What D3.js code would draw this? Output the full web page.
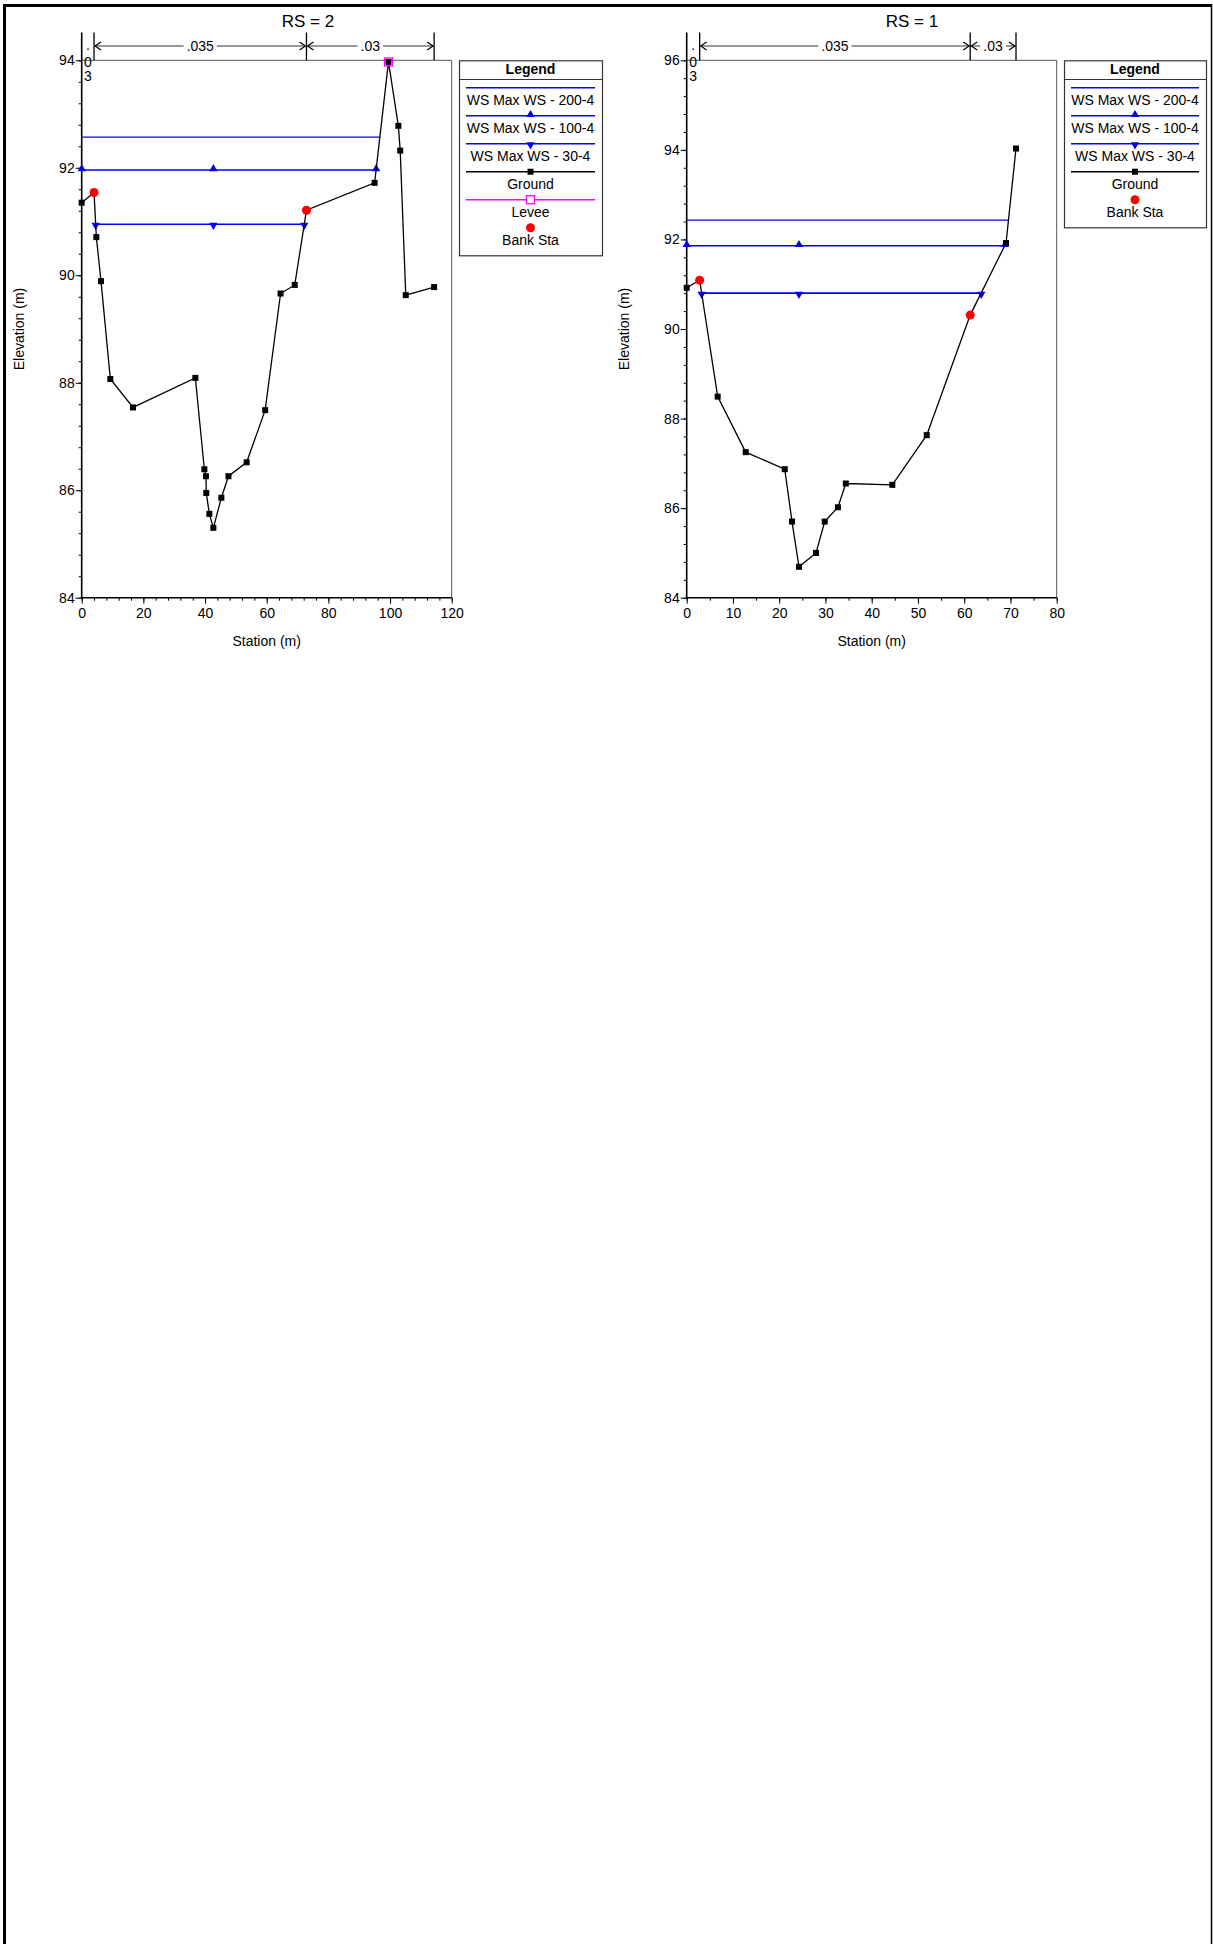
<!DOCTYPE html>
<html><head><meta charset="utf-8">
<script src="https://cdn.jsdelivr.net/npm/d3@7"></script>
<style>
body{margin:0;background:#fff}
text{font-family:Arial,"Liberation Sans",sans-serif;fill:#000}
</style>
</head><body>
<svg id="c" width="1213" height="1944"></svg>
<script>
// ---------- data ----------
const wsNames = ["WS Max WS - 200-4", "WS Max WS - 100-4", "WS Max WS - 30-4"];

// RS = 2
const rs2Title = "RS = 2";
const rs2Station = [0, 4.0, 4.75, 6.26, 9.29, 16.64, 36.86, 39.78, 40.3, 40.4, 41.4, 42.7, 45.3, 47.6, 53.5, 59.5, 64.5, 69.1, 72.9, 95.0, 99.5, 102.7, 103.3, 105.1, 114.3];
const rs2Elev    = [91.35, 91.54, 90.71, 89.89, 88.07, 87.54, 88.09, 86.39, 86.26, 85.95, 85.56, 85.30, 85.86, 86.26, 86.52, 87.49, 89.66, 89.82, 91.21, 91.72, 93.97, 92.78, 92.32, 89.63, 89.78];
const rs2WsElev  = [92.57, 91.96, 90.95];
const rs2WsFrom  = [0, 0, 4.53];
const rs2WsTo    = [96.7, 95.5, 72.2];
const rs2WsMarks = [[], [0, 42.7, 95.5], [4.53, 42.7, 72.2]];
const rs2BankSta = [4.0, 72.9];
const rs2BankEl  = [91.54, 91.21];
const rs2LeveeSta = [99.5];
const rs2LeveeEl  = [93.97];
const rs2NBreaks = [0, 4.0, 72.9, 114.3];
const rs2NVals   = [".03", ".035", ".03"];
const rs2XTicks  = [0, 20, 40, 60, 80, 100, 120];
const rs2YTicks  = [84, 86, 88, 90, 92, 94];

// RS = 1
const rs1Title = "RS = 1";
const rs1Station = [0, 2.8, 6.7, 12.76, 21.2, 22.77, 24.28, 27.96, 29.84, 32.7, 34.4, 44.46, 51.9, 61.3, 69.05, 71.2];
const rs1Elev    = [90.92, 91.09, 88.49, 87.25, 86.87, 85.70, 84.69, 85.0, 85.70, 86.02, 86.55, 86.52, 87.63, 90.31, 91.92, 94.03];
const rs1WsElev  = [92.43, 91.86, 90.80];
const rs1WsFrom  = [0, 0, 3.24];
const rs1WsTo    = [69.6, 68.8, 63.7];
const rs1WsMarks = [[], [0, 24.28, 68.8], [3.24, 24.28, 63.7]];
const rs1BankSta = [2.8, 61.3];
const rs1BankEl  = [91.09, 90.31];
const rs1LeveeSta = [];
const rs1LeveeEl  = [];
const rs1NBreaks = [0, 2.8, 61.3, 71.2];
const rs1NVals   = [".03", ".035", ".03"];
const rs1XTicks  = [0, 10, 20, 30, 40, 50, 60, 70, 80];
const rs1YTicks  = [84, 86, 88, 90, 92, 94, 96];

// ---------- drawing ----------
const svg = d3.select("#c");
const BLUE = "#0000ff";

// outer frame
svg.append("line").attr("x1", 3).attr("x2", 1212).attr("y1", 5.5).attr("y2", 5.5).attr("stroke", "#000").attr("stroke-width", 3);
svg.append("line").attr("x1", 4.5).attr("x2", 4.5).attr("y1", 4).attr("y2", 1944).attr("stroke", "#000").attr("stroke-width", 3);
svg.append("line").attr("x1", 1211.5).attr("x2", 1211.5).attr("y1", 4).attr("y2", 1944).attr("stroke", "#000").attr("stroke-width", 1.5);

function drawPanel(p) {
  const g = svg.append("g");
  const x = d3.scaleLinear().domain(p.xDom).range([p.left, p.right]);
  const y = d3.scaleLinear().domain(p.yDom).range([p.bottom, p.top]);

  // title
  g.append("text").attr("x", p.titleX).attr("y", 27).attr("text-anchor", "middle")
    .style("font-size", "17px").text(p.title);

  // plot frame top/right
  g.append("path").attr("d", `M${p.left},${p.top}H${p.right}V${p.bottom}`)
    .attr("fill", "none").attr("stroke", "#555").attr("stroke-width", 1);

  // minor ticks
  const xMinor = d3.range(p.xDom[0], p.xDom[1] + 1e-9, p.xMinor);
  const yMinor = d3.range(p.yDom[0], p.yDom[1] + 1e-9, p.yMinor);
  g.append("g").attr("transform", `translate(0,${p.bottom})`)
    .call(d3.axisBottom(x).tickValues(xMinor).tickSize(3).tickFormat("").tickSizeOuter(0))
    .call(s => s.select(".domain").remove());
  g.append("g").attr("transform", `translate(${p.left},0)`)
    .call(d3.axisLeft(y).tickValues(yMinor).tickSize(3).tickFormat("").tickSizeOuter(0))
    .call(s => s.select(".domain").remove());
  // major ticks
  const xa = g.append("g").attr("transform", `translate(0,${p.bottom})`)
    .call(d3.axisBottom(x).tickValues(p.xTicks).tickSize(6).tickPadding(4).tickFormat(d3.format("d")).tickSizeOuter(0));
  const ya = g.append("g").attr("transform", `translate(${p.left},0)`)
    .call(d3.axisLeft(y).tickValues(p.yTicks).tickSize(6).tickPadding(1).tickFormat(d3.format("d")).tickSizeOuter(0));
  [xa, ya].forEach(a => {
    a.select(".domain").remove();
    a.selectAll("text").style("font-size", "14px").style("font-family", "Arial, 'Liberation Sans', sans-serif").attr("fill", "#000");
  });
  g.selectAll(".tick line").attr("stroke", "#000");

  // axis lines
  g.append("line").attr("x1", p.left).attr("x2", p.left).attr("y1", 32.5).attr("y2", p.bottom + 0.5)
    .attr("stroke", "#000").attr("stroke-width", 1.6);
  g.append("line").attr("x1", p.left).attr("x2", p.right).attr("y1", p.bottom).attr("y2", p.bottom)
    .attr("stroke", "#000").attr("stroke-width", 1.6);

  // axis labels
  g.append("text").attr("x", (p.left + p.right) / 2).attr("y", 646).attr("text-anchor", "middle")
    .style("font-size", "14px").text("Station (m)");
  g.append("text").attr("transform", `translate(${p.left - 58},${(p.top + p.bottom) / 2}) rotate(-90)`)
    .attr("text-anchor", "middle").style("font-size", "14px").text("Elevation (m)");

  // manning's n bar
  const nY = 46;
  p.nBreaks.slice(1).forEach(b => {
    g.append("line").attr("x1", x(b)).attr("x2", x(b)).attr("y1", 32.5).attr("y2", p.top)
      .attr("stroke", "#000").attr("stroke-width", 1.3);
  });
  p.nVals.forEach((v, i) => {
    const a = x(p.nBreaks[i]), b = x(p.nBreaks[i + 1]);
    if (b - a < 25) {
      // stacked vertical label
      const cx = (a + b) / 2;
      v.split("").forEach((ch, k) => {
        g.append("text").attr("x", cx).attr("y", 53 + k * 14 - (ch === "." ? 3 : 0))
          .attr("text-anchor", "middle").style("font-size", "14px").text(ch);
      });
      return;
    }
    const t = g.append("text").attr("x", (a + b) / 2).attr("y", nY + 5).attr("text-anchor", "middle")
      .style("font-size", "14px").text(v);
    const w = t.node().getComputedTextLength();
    const m = (a + b) / 2;
    const col = "#333";
    g.append("line").attr("x1", a + 1).attr("x2", m - w / 2 - 3).attr("y1", nY).attr("y2", nY).attr("stroke", col);
    g.append("line").attr("x1", m + w / 2 + 3).attr("x2", b - 1).attr("y1", nY).attr("y2", nY).attr("stroke", col);
    g.append("path").attr("d", `M${a + 7},${nY - 4}L${a + 1},${nY}L${a + 7},${nY + 4}`).attr("fill", "none").attr("stroke", "#000").attr("stroke-width", 1.2);
    g.append("path").attr("d", `M${b - 7},${nY - 4}L${b - 1},${nY}L${b - 7},${nY + 4}`).attr("fill", "none").attr("stroke", "#000").attr("stroke-width", 1.2);
  });

  // water surfaces
  const triUp = d3.symbol().type(d3.symbolTriangle).size(30);
  p.wsElev.forEach((e, i) => {
    g.append("line").attr("x1", x(p.wsFrom[i])).attr("x2", x(p.wsTo[i])).attr("y1", y(e)).attr("y2", y(e))
      .attr("stroke", BLUE).attr("stroke-width", i === 0 ? 1.3 : 1.6);
    p.wsMarks[i].forEach(s => {
      g.append("path").attr("d", triUp()).attr("fill", BLUE)
        .attr("transform", `translate(${x(s)},${y(e) + (i === 2 ? 1 : -1)})${i === 2 ? " rotate(180)" : ""}`);
    });
  });

  // ground
  const pts = p.sta.map((s, i) => [s, p.elev[i]]);
  g.append("path").datum(pts).attr("d", d3.line().x(d => x(d[0])).y(d => y(d[1])))
    .attr("fill", "none").attr("stroke", "#000").attr("stroke-width", 1.3);
  g.selectAll(null).data(pts).enter().append("rect")
    .attr("x", d => x(d[0]) - 3).attr("y", d => y(d[1]) - 3).attr("width", 6).attr("height", 6).attr("fill", "#000");

  // levee
  p.leveeSta.forEach((s, i) => {
    g.append("rect").attr("x", x(s) - 4).attr("y", y(p.leveeEl[i]) - 4).attr("width", 8).attr("height", 8)
      .attr("fill", "none").attr("stroke", "#ff00ff").attr("stroke-width", 1.3);
  });

  // bank stations
  p.bankSta.forEach((s, i) => {
    g.append("circle").attr("cx", x(s)).attr("cy", y(p.bankEl[i])).attr("r", 4.5).attr("fill", "#ff0000");
  });

  // legend
  const L = p.legend;
  const rows = [
    {name: wsNames[0], color: BLUE, marker: "none"},
    {name: wsNames[1], color: BLUE, marker: "up"},
    {name: wsNames[2], color: BLUE, marker: "down"},
    {name: "Ground", color: "#000", marker: "square"}
  ];
  if (p.leveeSta.length) rows.push({name: "Levee", color: "#ff00ff", marker: "open"});
  rows.push({name: "Bank Sta", color: "#ff0000", marker: "dot"});
  const lh = 79.3 + rows.length * 28 + 8;
  g.append("rect").attr("x", L.x0 + 0.5).attr("y", p.top + 0.5).attr("width", L.x1 - L.x0).attr("height", lh - p.top)
    .attr("fill", "#fff").attr("stroke", "#333").attr("stroke-width", 1.2);
  g.append("line").attr("x1", L.x0).attr("x2", L.x1).attr("y1", 79.5).attr("y2", 79.5).attr("stroke", "#333");
  const cx = (L.x0 + L.x1) / 2;
  g.append("text").attr("x", cx).attr("y", 74).attr("text-anchor", "middle")
    .style("font-size", "14px").style("font-weight", "bold").text("Legend");
  rows.forEach((r, k) => {
    const ly = 87.7 + k * 28;
    if (r.marker !== "dot") {
      g.append("line").attr("x1", L.x0 + 7).attr("x2", L.x1 - 7).attr("y1", ly).attr("y2", ly)
        .attr("stroke", r.color).attr("stroke-width", 1.5);
    }
    if (r.marker === "up") g.append("path").attr("d", triUp()).attr("fill", BLUE).attr("transform", `translate(${cx},${ly - 1})`);
    if (r.marker === "down") g.append("path").attr("d", triUp()).attr("fill", BLUE).attr("transform", `translate(${cx},${ly + 1}) rotate(180)`);
    if (r.marker === "square") g.append("rect").attr("x", cx - 3).attr("y", ly - 3).attr("width", 6).attr("height", 6).attr("fill", "#000");
    if (r.marker === "open") g.append("rect").attr("x", cx - 4).attr("y", ly - 4).attr("width", 8).attr("height", 8).attr("fill", "#fff").attr("stroke", "#ff00ff").attr("stroke-width", 1.3);
    if (r.marker === "dot") g.append("circle").attr("cx", cx).attr("cy", ly).attr("r", 4.5).attr("fill", "#ff0000");
    g.append("text").attr("x", cx).attr("y", ly + 17).attr("text-anchor", "middle")
      .style("font-size", "14px").text(r.name);
  });
}

drawPanel({
  title: rs2Title, titleX: 308,
  left: 81.7, right: 451.7, top: 60.3, bottom: 597.7,
  xDom: [0, 120], yDom: [84, 94], xMinor: 4, yMinor: 0.4,
  xTicks: rs2XTicks, yTicks: rs2YTicks,
  sta: rs2Station, elev: rs2Elev,
  wsElev: rs2WsElev, wsFrom: rs2WsFrom, wsTo: rs2WsTo, wsMarks: rs2WsMarks,
  bankSta: rs2BankSta, bankEl: rs2BankEl, leveeSta: rs2LeveeSta, leveeEl: rs2LeveeEl,
  nBreaks: rs2NBreaks, nVals: rs2NVals,
  legend: {x0: 459, x1: 602}
});
drawPanel({
  title: rs1Title, titleX: 912,
  left: 686.7, right: 1056.7, top: 60.3, bottom: 597.7,
  xDom: [0, 80], yDom: [84, 96], xMinor: 5, yMinor: 0.4,
  xTicks: rs1XTicks, yTicks: rs1YTicks,
  sta: rs1Station, elev: rs1Elev,
  wsElev: rs1WsElev, wsFrom: rs1WsFrom, wsTo: rs1WsTo, wsMarks: rs1WsMarks,
  bankSta: rs1BankSta, bankEl: rs1BankEl, leveeSta: rs1LeveeSta, leveeEl: rs1LeveeEl,
  nBreaks: rs1NBreaks, nVals: rs1NVals,
  legend: {x0: 1064, x1: 1206}
});
</script>
</body></html>
